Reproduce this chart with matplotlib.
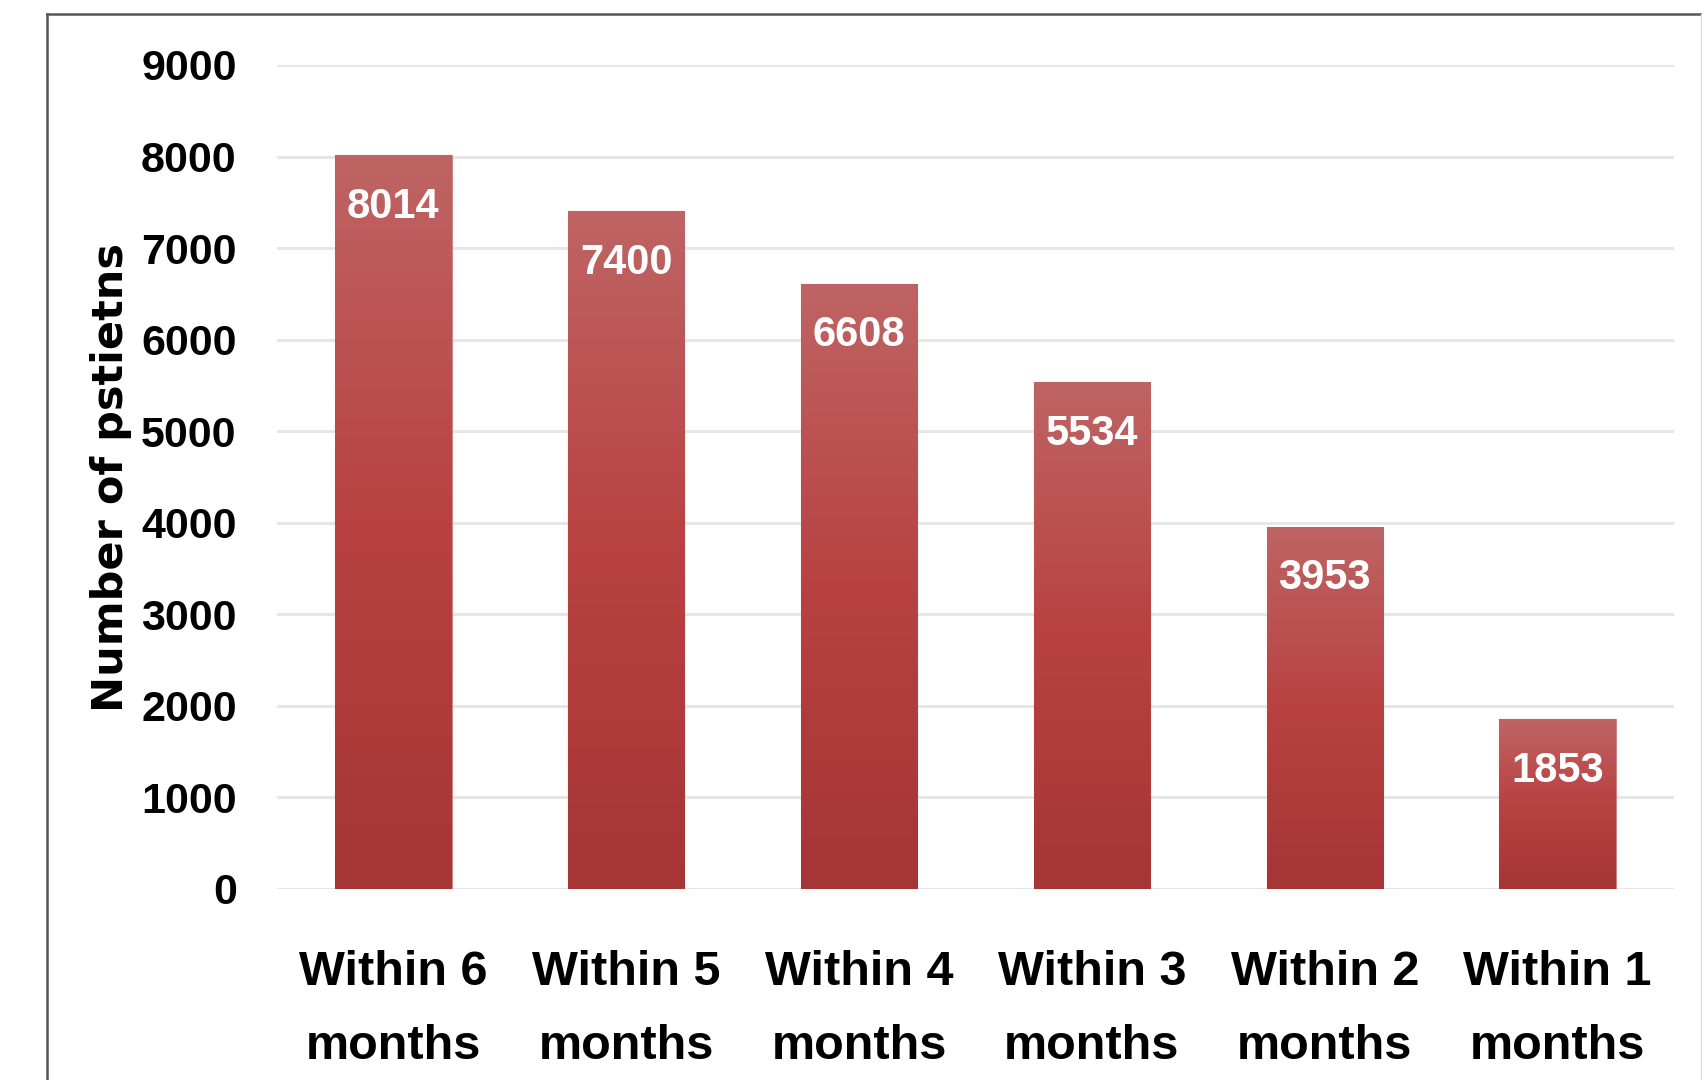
import matplotlib
matplotlib.use("Agg")
import matplotlib.pyplot as plt
import numpy as np
from matplotlib.colors import LinearSegmentedColormap
from matplotlib.lines import Line2D

categories = ["Within 6\nmonths", "Within 5\nmonths", "Within 4\nmonths",
              "Within 3\nmonths", "Within 2\nmonths", "Within 1\nmonths"]
values = [8014, 7400, 6608, 5534, 3953, 1853]
yticks = [0, 1000, 2000, 3000, 4000, 5000, 6000, 7000, 8000, 9000]
ylabel = "Number of pstietns"

W, H = 1702, 1080
fig = plt.figure(figsize=(W / 100, H / 100), dpi=100)
fig.patch.set_facecolor("white")
ax = fig.add_axes([277 / W, 1 - 889 / H, (1674 - 277) / W, (889 - 65) / H])

x = np.arange(len(categories))
bars = ax.bar(x, values, width=0.5, color="#B84242", edgecolor="#D08585",
              linewidth=0.8, zorder=3)

cmap = LinearSegmentedColormap.from_list(
    "grad", ["#A63535", "#B94141", "#BF6464"])
grad = np.linspace(0, 1, 256).reshape(-1, 1)
for b in bars:
    bx, bw, bh = b.get_x(), b.get_width(), b.get_height()
    im = ax.imshow(grad, cmap=cmap, origin="lower", aspect="auto",
                   extent=[bx, bx + bw, 0, bh], zorder=3.5, interpolation="bicubic")
    im.set_clip_path(b)

for xi, v in zip(x, values):
    ax.annotate(str(v), xy=(xi, v), xytext=(0, -37), textcoords="offset points",
                ha="center", va="center", color="white", fontsize=30,
                fontweight="bold", family="Liberation Sans", zorder=5)

ax.set_xlim(-0.5, len(categories) - 0.5)
ax.set_ylim(0, 9000)
ax.set_yticks(yticks)
ax.set_yticklabels([str(t) for t in yticks], fontsize=31, fontweight="bold",
                   family="Liberation Sans")
ax.set_xticks(x)
ax.set_xticklabels(categories, fontsize=35, fontweight="bold",
                   family="Liberation Sans", linespacing=1.82)
ax.tick_params(axis="y", length=0, pad=29)
ax.tick_params(axis="x", length=0, pad=44)
ax.yaxis.grid(True, color="#E6E6E6", linewidth=2.2, zorder=0)
ax.set_axisbelow(True)
for s in ax.spines.values():
    s.set_visible(False)

fig.text(111 / W, 1 - 477 / H, ylabel, rotation=90, ha="center", va="center",
         fontsize=31, fontweight="bold", family="DejaVu Sans")

# outer frame
fig.add_artist(Line2D([47 / W, 47 / W], [0, 1 - 14 / H], color="#555555",
                      linewidth=1.8, transform=fig.transFigure))
fig.add_artist(Line2D([47 / W, 1], [1 - 14 / H, 1 - 14 / H], color="#555555",
                      linewidth=1.8, transform=fig.transFigure))
fig.add_artist(Line2D([1700.5 / W, 1700.5 / W], [0, 1 - 14 / H], color="#DDDDDD",
                      linewidth=1.0, transform=fig.transFigure))

fig.savefig("out.png", dpi=100, facecolor="white")
